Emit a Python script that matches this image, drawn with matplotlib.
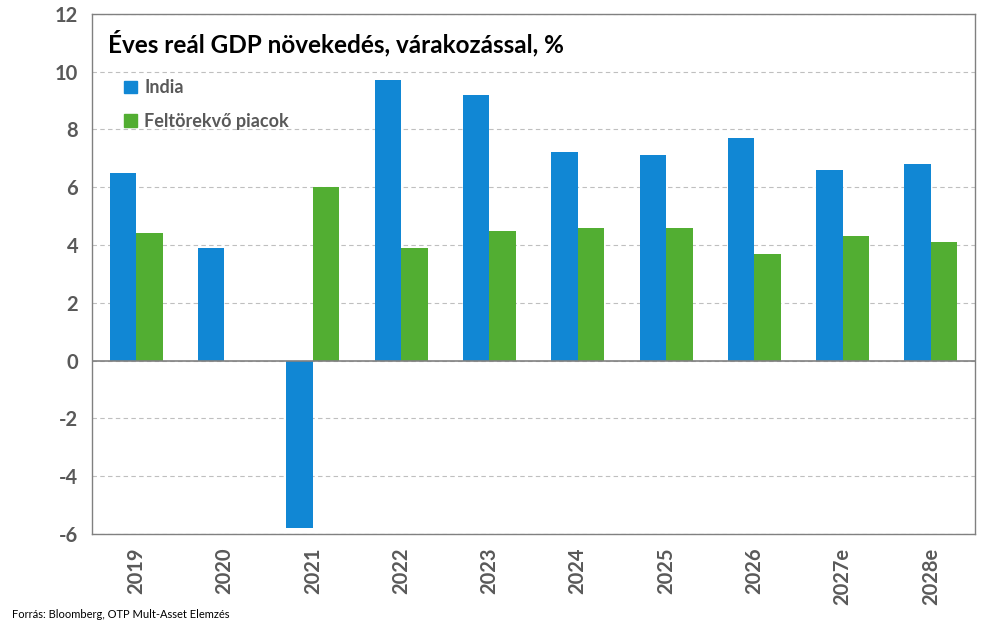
import numpy as np
import matplotlib.pyplot as plt
from matplotlib.patches import Patch

plt.rcParams['font.family'] = ['Lato', 'DejaVu Sans']
plt.rcParams['axes.unicode_minus'] = False

years = ['2019', '2020', '2021', '2022', '2023', '2024', '2025', '2026', '2027e', '2028e']
india = [6.5, 3.9, -5.8, 9.7, 9.2, 7.2, 7.1, 7.7, 6.6, 6.8]
emerging = [4.4, np.nan, 6.0, 3.9, 4.5, 4.6, 4.6, 3.7, 4.3, 4.1]

blue = '#1187D4'
green = '#52AE32'
grey = '#595959'

fig = plt.figure(figsize=(9.95, 6.26), dpi=100)
ax = fig.add_axes([0.0925, 0.147, 0.8875, 0.831])

x = np.arange(len(years))
w = 0.3
ax.bar(x - w / 2, india, w, color=blue, zorder=3)
ax.bar(x + w / 2, emerging, w, color=green, zorder=3)

ax.set_xlim(-0.5, len(years) - 0.5)
ax.set_ylim(-6, 12)
ax.set_yticks(range(-6, 13, 2))
ax.yaxis.grid(True, linestyle=(0, (4, 3)), color='#BFBFBF', linewidth=0.8, zorder=0)
ax.axhline(0, color='#808080', linewidth=1.2, zorder=4)

ax.set_xticks(x)
ax.set_xticklabels(years, rotation=90, fontsize=14.5, fontweight='bold', color=grey)
for lab in ax.get_yticklabels():
    lab.set_fontsize(14.5)
    lab.set_fontweight('bold')
    lab.set_color(grey)
ax.tick_params(axis='both', length=0, pad=10)

for s in ax.spines.values():
    s.set_color('#808080')
    s.set_linewidth(1.0)

ax.text(0.018, 0.943, 'Éves reál GDP növekedés, várakozással, %', transform=ax.transAxes,
        fontsize=17.5, fontweight='bold', color='black', va='center', ha='left')

handles = [Patch(color=blue, label='India'), Patch(color=green, label='Feltörekvő piacok')]
leg = ax.legend(handles=handles, loc='upper left', bbox_to_anchor=(0.018, 0.905), frameon=False,
                handlelength=0.7, handleheight=0.7, handletextpad=0.4, labelspacing=0.9,
                prop={'size': 13, 'weight': 'bold'})
for t in leg.get_texts():
    t.set_color(grey)

fig.text(0.012, 0.012, 'Forrás: Bloomberg, OTP Mult-Asset Elemzés', fontsize=8, color='black')

fig.savefig('out.png', dpi=100)
